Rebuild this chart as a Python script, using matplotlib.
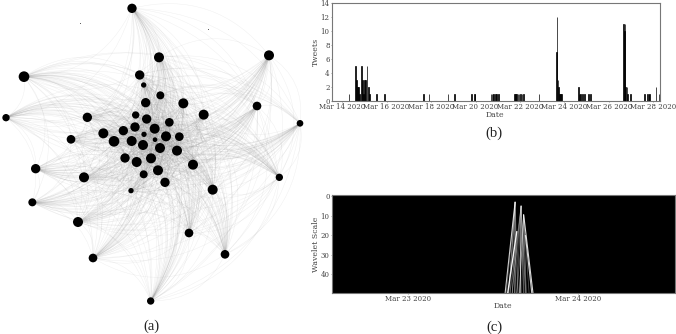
import datetime as dt
import numpy as np
import matplotlib
matplotlib.use("Agg")
import matplotlib.pyplot as plt
import matplotlib.dates as mdates
from matplotlib.path import Path
from matplotlib.collections import PathCollection

# (a) network nodes
node_x = [396,477,807,72,419,431,481,437,550,771,900,18,262,611,407,440,508,405,464,370,310,432,498,538,213,342,395,465,429,480,531,375,453,410,579,107,474,431,252,838,495,638,393,97,234,567,675,279,452]
node_y = [25,172,166,230,225,255,286,308,310,318,370,353,352,344,345,357,367,381,386,392,400,403,409,410,418,424,423,419,435,444,452,474,475,486,494,506,511,523,532,532,547,569,572,607,666,699,763,774,903]
node_r = [14,15,15,16,14,8,12,14,15,13,10,11,14,15,11,14,13,14,15,14,15,8,15,13,13,16,15,7,15,15,15,14,15,15,15,14,15,12,15,11,14,15,8,12,15,13,13,13,11]
tiny_x = [241,624]
tiny_y = [68,86]

# (b) tweets per hour
tweet_days = [14.31,14.61,14.66,14.70,14.75,14.79,14.87,14.91,14.96,15.02,15.06,15.12,15.18,15.24,15.56,15.92,17.66,17.90,18.76,19.06,19.81,19.95,19.98,20.70,20.74,20.79,20.82,20.89,20.95,21.03,21.75,21.79,21.85,21.91,21.96,22.03,22.09,22.15,22.85,23.63,23.66,23.71,23.74,23.78,23.83,23.87,24.62,24.65,24.70,24.73,24.82,24.89,25.09,25.16,26.66,26.69,26.72,26.75,26.81,26.84,26.96,27.59,27.74,27.79,27.83,28.11,28.25]
tweet_counts = [1,5,3,2,2,1,5,3,1,3,3,5,2,1,1,1,1,1,1,1,1,1,1,1,1,1,1,1,1,1,1,1,1,1,1,1,1,1,1,7,12,3,2,1,1,1,2,1,1,1,1,1,1,1,11,10,11,2,2,1,1,1,1,1,1,2,1]
b_ticks = [14,16,18,20,22,24,26,28]

# (c) wavelet ridges
ridge_top_day = [23.630]*8 + [23.665]*7 + [23.680]*7 + [23.640, 23.690]
ridge_top_scale = [3]*8 + [5]*7 + [9.5]*7 + [18, 20]
ridge_bot_day = [23.571,23.578,23.592,23.600,23.615,23.628,23.635,23.648,23.600,23.612,23.625,23.640,23.660,23.680,23.692,23.640,23.655,23.668,23.682,23.695,23.712,23.735,23.586,23.728]
ridge_alpha = [.8,.35,.6,.35,.35,.5,.3,.3,.35,.5,.3,.35,.7,.35,.5,.4,.6,.3,.35,.5,.35,.85,.95,.8]
ridge_width = [.8,.5,.5,.5,.5,.5,.5,.5,.5,.5,.5,.5,.7,.5,.5,.5,.6,.5,.5,.5,.5,.8,1,.8]
c_ticks = [23,24]
c_yticks = [0,10,20,30,40]

def march(d):
    return mdates.date2num(dt.datetime(2020,3,1)) + np.asarray(d, dtype=float) - 1

W, H = 676, 334
SERIF = "DejaVu Serif"
TXT = "#444444"
fig = plt.figure(figsize=(W/100, H/100), dpi=100, facecolor="white")

def box(l, t, r, b):
    return [l/W, 1-b/H, (r-l)/W, (b-t)/H]

# panel (a)
ax = fig.add_axes(box(0,0,320,334))
ax.set_xlim(0,960); ax.set_ylim(1002,0); ax.axis("off")
paths = []
xs, ys = np.array(node_x, float), np.array(node_y, float)
for i in range(len(xs)):
    for j in range(i+1, len(xs)):
        p0 = np.array([xs[i], ys[i]]); p2 = np.array([xs[j], ys[j]])
        d = p2-p0
        ctrl = (p0+p2)/2 + 0.32*np.array([d[1], -d[0]])
        paths.append(Path([p0,ctrl,p2],[Path.MOVETO,Path.CURVE3,Path.CURVE3]))
ax.add_collection(PathCollection(paths, facecolors="none", edgecolors="#888888", linewidths=0.35, alpha=0.13))
r = np.array(node_r)/3*0.72
ax.scatter(xs, ys, s=(2*r)**2, c="black", linewidths=0, zorder=3)
ax.scatter(tiny_x, tiny_y, s=0.5, c="#555555", linewidths=0, zorder=3)

def style(a, w, h):
    for s in a.spines.values():
        s.set_color("#777777"); s.set_linewidth(0.8)
    a.tick_params(labelsize=5.0, length=1, width=0.4, pad=0.8, color="#555555", labelcolor=TXT)
    for t in a.get_xticklabels()+a.get_yticklabels():
        t.set_family(SERIF)
    a.yaxis.set_label_coords(-12.5/w, 0.5)
    a.xaxis.set_label_coords(0.498, -9.8/h)

# panel (b)
b = fig.add_axes(box(332,3.3,659.5,100.7))
b.bar(march(tweet_days), tweet_counts, width=0.6/24, color="black", edgecolor="black", linewidth=0.5)
b.set_xlim(march(13.55), march(28.27)); b.set_ylim(0,14)
b.set_xticks(march(b_ticks)); b.set_yticks(range(0,15,2))
b.xaxis.set_major_formatter(mdates.DateFormatter("%b %d %Y"))
b.set_xlabel("Date", family=SERIF, fontsize=5.6, color=TXT)
b.set_ylabel("Tweets", family=SERIF, fontsize=5.6, color=TXT)
style(b, 327.5, 97.4)

# panel (c)
c = fig.add_axes(box(332,195,674.7,292.7), facecolor="black")
for td, ts, bd, al, lw in zip(ridge_top_day, ridge_top_scale, ridge_bot_day, ridge_alpha, ridge_width):
    c.plot(march([td,bd]), [ts,50], color="white", lw=lw, alpha=al, solid_capstyle="butt")
c.set_xlim(march(22.557), march(24.565)); c.set_ylim(49.5,-0.5)
c.set_xticks(march(c_ticks)); c.set_yticks(c_yticks)
c.xaxis.set_major_formatter(mdates.DateFormatter("%b %d %Y"))
c.set_xlabel("Date", family=SERIF, fontsize=5.6, color=TXT)
c.set_ylabel("Wavelet Scale", family=SERIF, fontsize=5.6, color=TXT)
style(c, 342.7, 97.7)

# captions
for label, px, py in [("(a)",151,326),("(b)",494,133),("(c)",494,327)]:
    fig.text(px/W, 1-py/H, label, family="Liberation Serif", fontsize=10.5, color="#222222", ha="center", va="center")

fig.savefig("out.png", dpi=100)
